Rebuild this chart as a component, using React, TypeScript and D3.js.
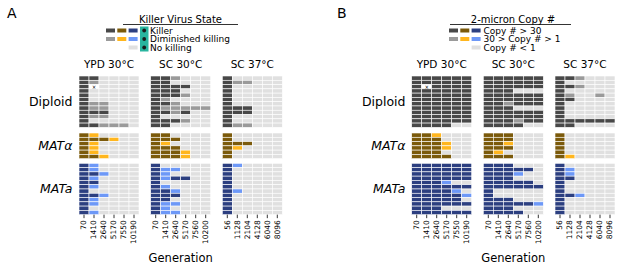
import React from "react";
import * as d3 from "d3";

// ---------- data ----------
const conditions = ["YPD 30°C", "SC 30°C", "SC 37°C"];
const genotypes = ["Diploid", "MATα", "MATa"];
const tickLabels = [
  ["70", "1410", "2640", "5170", "7550", "10190"],
  ["70", "1410", "2640", "5170", "7560", "10200"],
  ["56", "1128", "2104", "4128", "6040", "8096"],
];
// codes: D = strong state, G = intermediate state, . = none, X = missing
const A_YPD_dip = ["DD....", "DG....", "DX....", "D.....", "D.....", "D.....", "DGG...", "DGG...", "DDD...", "DGG...", "D.....", "DDGGG."];
const A_SC30_dip = ["DDG...", "DD....", "DDDD..", "DDD...", "DDDG..", "DG....", "DDG...", "DGGGGG", "DDGD..", "D.....", "DDDG..", "DD...."];
const A_SC37_dip = ["D.....", "DGG...", "D.....", "D.....", "D.....", "D.....", "D.....", "DDD...", "DDD...", "D.....", "D.....", "DGG..."];
const A_YPD_alpha = ["DG....", "DDDG..", "DG....", "DG....", "DG....", "DDG..."];
const A_SC30_alpha = ["DD....", "DDD...", "DG....", "DDD...", "DDDG..", "DDDG.."];
const A_SC37_alpha = ["D.....", "D.....", "DDD...", "DG....", "D.....", "D....."];
const A_YPD_a = ["DG....", "DG....", "DDG...", "DG....", "DD....", "DG....", "D.....", "DDG...", "DG....", "DG....", "D.....", "DG...."];
const A_SC30_a = ["D.....", "DGG...", "DG....", "DGDD..", "D.....", "DG....", "DDG...", "DDD...", "DD....", "DGG...", "DG....", "DGG..."];
const A_SC37_a = ["DG....", "D.....", "D.....", "D.....", "D.....", "D.....", "DG....", "D.....", "D.....", "D.....", "D.....", "D....."];

const B_YPD_dip = ["DDDDDD", "DDDDDD", "DXDDDD", "DDDDDD", "DDDDDD", "DDDDDD", "DDDDDD", "DDDDDD", "DDDDDD", "DDDDDD", "DDDDDD", "DDDD.."];
const B_SC30_dip = ["DDDDDD", "DDDDDD", "DDDDDD", "DDD...", "DDDDDD", "DDDDDD", "DDGDDD", "DDD...", "DDDDDD", "DDDDDD", "DDDGDD", "DDDD.."];
const B_SC37_dip = ["DDG...", "D.....", "DDG...", "D.....", "DG..G.", "DD....", "D.....", "D.....", "D.....", "D.....", "DDDDDD", "DD...."];
const B_YPD_alpha = ["DDG...", "DDD...", "DDDG..", "DDDG..", "DDD...", "DDDD.."];
const B_SC30_alpha = ["DDD...", "DDD...", "DDG...", "DDD...", "DG....", "DDD..."];
const B_SC37_alpha = ["D.....", "D.....", "D.....", "D.....", "D.....", "DG...."];
const B_YPD_a = ["DDDDDD", "DDDDDD", "DDDDDD", "DDDDDD", "DDDG..", "DDDDDD", "DDDDG.", "DDDDDG", "DDDDD.", "DDDDDD", "DDD...", "DDDDDD"];
const B_SC30_a = ["DDD...", "DDDDD.", "DDDG..", "DDD...", "DDDDD.", "DDDDDD", "D.....", "D.....", "DDD...", "DDDDDG", "DDD...", "DDDD.."];
const B_SC37_a = ["D.....", "DG....", "DG....", "DD....", "D.....", "D.....", "D.....", "DDG...", "D.....", "D.....", "D.....", "D....."];

const legendA = { title: "Killer Virus State", labels: ["Killer", "Diminished killing", "No killing"] };
const legendB = { title: "2-micron Copy #", labels: ["Copy # > 30", "30 > Copy # > 1", "Copy # < 1"] };

// ---------- styling ----------
const palettes: Record<string, { D: string; G: string }> = {
  Diploid: { D: "#484848", G: "#9a9a9a" },
  "MATα": { D: "#7b5a0b", G: "#ffb61e" },
  MATa: { D: "#2c3f80", G: "#6d98f7" },
};
const NONE = "#e0e0e0";
const FONT = "DejaVu Sans, Verdana, sans-serif";

const rowH = 4.28;
const blockY = [76, 133, 163.3];
const panelW = 60;

type Fig = {
  label: string;
  labelX: number;
  panelX: number[];
  rowLabelX: number;
  legend: { title: string; labels: string[] };
  legendX: number; // left of swatches
  textX: number;
  titleCx: number;
  underline: [number, number];
  teal: boolean;
  data: string[][][]; // [genotype][condition] rows
};

const figs: Fig[] = [
  {
    label: "A",
    labelX: 7,
    panelX: [79, 150.7, 222.3],
    rowLabelX: 72.5,
    legend: legendA,
    legendX: 106,
    textX: 150,
    titleCx: 180.5,
    underline: [123, 238],
    teal: true,
    data: [
      [A_YPD_dip, A_SC30_dip, A_SC37_dip],
      [A_YPD_alpha, A_SC30_alpha, A_SC37_alpha],
      [A_YPD_a, A_SC30_a, A_SC37_a],
    ],
  },
  {
    label: "B",
    labelX: 337,
    panelX: [411.7, 483.3, 555],
    rowLabelX: 405.5,
    legend: legendB,
    legendX: 449,
    textX: 483.5,
    titleCx: 513,
    underline: [450, 571],
    teal: false,
    data: [
      [B_YPD_dip, B_SC30_dip, B_SC37_dip],
      [B_YPD_alpha, B_SC30_alpha, B_SC37_alpha],
      [B_YPD_a, B_SC30_a, B_SC37_a],
    ],
  },
];

function Panel({ rows, x0, y0, pal }: { rows: string[]; x0: number; y0: number; pal: { D: string; G: string } }) {
  const xs = d3.scaleBand<number>().domain(d3.range(6)).range([x0, x0 + panelW]);
  const ys = d3.scaleBand<number>().domain(d3.range(rows.length)).range([y0, y0 + rows.length * rowH]);
  const cells: React.ReactNode[] = [];
  rows.forEach((r, i) => {
    r.split("").forEach((c, j) => {
      const fill = c === "D" ? pal.D : c === "G" ? pal.G : c === "X" ? "#ffffff" : NONE;
      cells.push(
        <rect key={`${i}-${j}`} x={xs(j)} y={ys(i)} width={xs.bandwidth()} height={ys.bandwidth()} fill={fill} stroke="#ffffff" strokeWidth={0.6} />
      );
      if (c === "X") {
        cells.push(
          <text key={`x${i}-${j}`} x={(xs(j) as number) + xs.bandwidth() / 2} y={(ys(i) as number) + ys.bandwidth() / 2} fontSize={6} textAnchor="middle" dominantBaseline="central" fontFamily={FONT} fill="#000">x</text>
        );
      }
    });
  });
  return <g>{cells}</g>;
}

function Figure({ f }: { f: Fig }) {
  const legendRowY = [30.5, 39, 47.5];
  const swW = 9, swH = 4, swGap = 2.3;
  const genoKeys = genotypes;
  const lastY = blockY[2] + 12 * rowH;
  return (
    <g>
      <text x={f.labelX} y={18} fontSize={14} fontFamily={FONT} fill="#000">{f.label}</text>
      {/* legend */}
      <text x={f.titleCx} y={22.5} fontSize={10} textAnchor="middle" fontFamily={FONT} fill="#000">{f.legend.title}</text>
      <line x1={f.underline[0]} x2={f.underline[1]} y1={24.5} y2={24.5} stroke="#000" strokeWidth={0.8} />
      {legendRowY.map((ly, i) => (
        <g key={i}>
          {genoKeys.map((g, k) => {
            if (i === 2 && k < 2) return null;
            const fill = i === 0 ? palettes[g].D : i === 1 ? palettes[g].G : NONE;
            return <rect key={k} x={f.legendX + k * (swW + swGap)} y={ly - swH / 2} width={swW} height={swH} fill={fill} />;
          })}
          <text x={f.textX} y={ly} fontSize={9} dominantBaseline="central" fontFamily={FONT} fill="#000">{f.legend.labels[i]}</text>
        </g>
      ))}
      {f.teal && (
        <g>
          <rect x={140} y={26.5} width={8.5} height={25} fill="#29b59f" />
          {legendRowY.map((ly, i) => (
            <circle key={i} cx={144.2} cy={ly} r={1.9} fill="#1a1a1a" />
          ))}
        </g>
      )}
      {/* condition titles */}
      {conditions.map((c, ci) => (
        <text key={c} x={f.panelX[ci] + panelW / 2} y={68} fontSize={10.5} textAnchor="middle" fontFamily={FONT} fill="#000">{c}</text>
      ))}
      {/* row labels */}
      {genotypes.map((g, gi) => {
        const n = f.data[gi][0].length;
        const cy = blockY[gi] + (n * rowH) / 2;
        const italic = g !== "Diploid";
        return (
          <text key={g} x={f.rowLabelX} y={cy} fontSize={12.5} textAnchor="end" dominantBaseline="central" fontFamily={FONT} fontStyle={italic ? "italic" : "normal"} fill="#000">{g}</text>
        );
      })}
      {/* panels */}
      {f.data.map((byCond, gi) =>
        byCond.map((rows, ci) => (
          <Panel key={`${gi}-${ci}`} rows={rows} x0={f.panelX[ci]} y0={blockY[gi]} pal={palettes[genotypes[gi]]} />
        ))
      )}
      {/* x axes */}
      {conditions.map((c, ci) => {
        const xs = d3.scaleBand<number>().domain(d3.range(6)).range([f.panelX[ci], f.panelX[ci] + panelW]);
        return (
          <g key={c}>
            {tickLabels[ci].map((t, j) => {
              const cx = (xs(j) as number) + xs.bandwidth() / 2;
              return (
                <g key={t}>
                  <line x1={cx} x2={cx} y1={lastY} y2={lastY + 3.5} stroke="#000" strokeWidth={0.8} />
                  <text x={cx} y={lastY + 5.5} fontSize={7.5} textAnchor="end" dominantBaseline="central" transform={`rotate(-90 ${cx} ${lastY + 5.5})`} fontFamily={FONT} fill="#000">{t}</text>
                </g>
              );
            })}
          </g>
        );
      })}
      <text x={f.panelX[1] + panelW / 2} y={262} fontSize={11.5} textAnchor="middle" fontFamily={FONT} fill="#000">Generation</text>
    </g>
  );
}

export default function App() {
  return (
    <svg width={617} height={265} viewBox="0 0 617 265" style={{ display: "block", position: "absolute", left: 0, top: 0, background: "#fff" }}>
      <rect width={617} height={265} fill="#fff" />
      {figs.map((f) => (
        <Figure key={f.label} f={f} />
      ))}
    </svg>
  );
}
